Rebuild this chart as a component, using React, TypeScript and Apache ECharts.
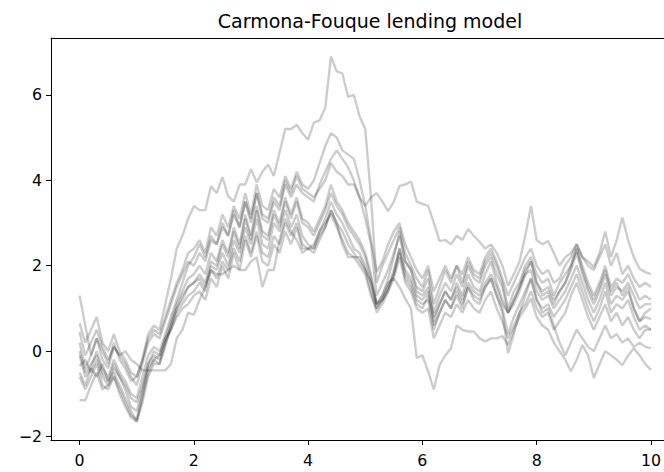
import React, { useEffect, useRef } from "react";
import * as echarts from "echarts";

const TITLE = "Carmona-Fouque lending model";
const T_STEP = 0.1;
const X_TICKS = [0, 2, 4, 6, 8, 10];
const Y_TICKS = [-2, 0, 2, 4, 6];

const path1 = [
  1.3, 0.6, -0.1, 0.3, 0.0, -0.3, 0.2, -0.2, -0.4, -0.7,
  -0.6, -0.2, 0.4, 0.6, 0.5, 1.1, 1.7, 2.4, 2.7, 3.1,
  3.4, 3.3, 3.3, 3.86, 3.7, 4.07, 3.63, 3.5, 3.9, 3.9,
  4.26, 3.95, 4.2, 4.37, 4.1, 4.65, 5.2, 5.2, 5.3, 5.1,
  4.95, 5.35, 5.4, 5.7, 6.9, 6.55, 6.5, 5.95, 6.0, 5.5,
  5.2, 3.6, 1.6, 2.0, 2.3, 2.6, 2.9, 2.3, 2.0, 1.7,
  1.5, 1.9, 1.1, 1.5, 1.9, 1.6, 2.0, 1.6, 2.1, 1.8,
  1.7, 2.1, 2.3, 2.0, 1.6, 1.0, 1.4, 1.6, 2.0, 2.2,
  1.8, 1.6, 1.7, 1.3, 1.6, 1.8, 2.0, 2.4, 2.0, 1.6,
  1.3, 1.6, 2.0, 1.5, 1.7, 1.6, 1.8, 1.5, 1.2, 1.3,
  1.2,
];
const path2 = [
  0.65, 0.2, 0.5, 0.8, 0.2, 0.0, 0.4, 0.0, -0.2, -0.5,
  -0.6, -0.2, 0.3, 0.5, 0.4, 0.8, 1.2, 1.6, 1.9, 2.3,
  2.4, 2.6, 2.3, 2.9, 2.7, 3.2, 2.9, 3.4, 3.1, 3.7,
  3.2, 3.9, 3.4, 3.3, 3.8, 3.6, 4.1, 3.8, 4.2, 3.9,
  3.8, 4.0, 4.4, 4.8, 5.1, 5.0, 4.7, 4.6, 4.5, 4.0,
  3.4, 2.6, 1.85, 2.1, 2.5, 2.8, 3.0, 2.5, 2.2, 1.9,
  1.7, 2.0, 1.4, 1.7, 2.0, 1.7, 2.0, 1.8, 2.2, 1.9,
  1.8, 2.2, 2.4, 2.1, 1.7, 1.3, 1.6, 1.9, 2.2, 2.4,
  2.0, 1.8, 1.9, 1.6, 1.7, 2.0, 2.2, 2.5, 2.2, 2.0,
  1.9, 2.2, 2.5, 2.0, 2.3, 1.8, 2.0, 1.7, 1.5, 1.6,
  1.5,
];
const path3 = [
  0.45, -0.1, 0.2, 0.5, 0.1, -0.2, 0.1, -0.1, -0.3, -0.6,
  -0.8, -0.3, 0.2, 0.4, 0.3, 0.7, 1.1, 1.5, 1.8, 2.1,
  2.0, 2.3, 2.1, 2.6, 2.5, 2.9, 2.7, 3.2, 2.9, 3.5,
  3.0, 3.7, 3.1, 3.0, 3.5, 3.3, 3.9, 3.6, 3.9, 3.7,
  3.6, 3.5, 3.9, 4.2, 4.5, 4.7, 4.5, 4.3, 4.0, 3.6,
  3.1, 2.5, 1.3, 1.6, 1.9, 2.3, 2.7, 2.1, 1.9, 1.5,
  1.4, 1.7, 0.9, 1.3, 1.6, 1.4, 1.8, 1.5, 2.0, 1.7,
  1.6, 2.0, 2.2, 1.8, 1.5, 0.9, 1.2, 1.5, 1.9, 2.1,
  1.6, 1.4, 1.5, 1.2, 1.4, 1.6, 1.9, 2.3, 1.8, 1.4,
  1.1, 1.4, 1.8, 1.3, 1.5, 1.4, 1.6, 1.3, 1.0, 1.1,
  1.1,
];
const path4 = [
  0.2, -0.4, -0.1, 0.3, -0.2, -0.4, 0.1, -0.1, 0.0, -0.2,
  -0.3, -0.45, -0.45, -0.45, -0.45, -0.45, -0.3, 0.3, 0.5, 0.9,
  0.85, 1.2, 1.5, 1.9, 1.8, 1.8, 1.9, 2.0, 1.9, 1.9,
  2.1, 2.2, 1.5, 1.9, 1.9, 2.6, 3.1, 2.8, 2.6, 2.3,
  2.4, 2.4, 2.7, 2.9, 3.3, 3.0, 2.5, 2.2, 2.2, 2.2,
  1.9, 1.6, 1.1, 1.2, 1.4, 1.8, 2.3, 1.7, 1.5, 1.1,
  1.0, 1.3, 0.6, 0.9, 1.2, 1.0, 1.3, 1.0, 1.5, 1.2,
  1.1, 1.5, 1.7, 1.3, 1.0, 0.4, 0.8, 1.1, 1.4, 1.7,
  1.2, 1.0, 1.1, 0.8, 1.0, 1.2, 1.5, 1.8, 1.4, 1.0,
  0.7, 1.0, 1.4, 0.9, 1.1, 1.0, 1.2, 0.8, 0.5, 0.6,
  0.5,
];
const path5 = [
  0.0, -0.5, -0.3, -0.1, -0.5, -0.7, -0.3, -0.6, -0.8, -1.1,
  -1.2, -0.8, -0.3, -0.1, -0.2, 0.2, 0.6, 1.0, 1.3, 1.5,
  1.6, 1.8, 1.6, 2.1, 2.0, 2.5, 2.2, 2.8, 2.4, 3.1,
  2.6, 3.3, 2.7, 2.6, 3.2, 2.9, 3.5, 3.1, 3.5, 3.0,
  2.9, 2.7, 3.0, 3.3, 3.7, 3.4, 3.2, 2.9, 2.7, 2.5,
  2.2, 1.7, 1.1, 1.3, 1.6, 1.7, 1.5, 1.23, 1.0, -0.16,
  -0.1, -0.47, -0.9, -0.33, -0.1, 0.07, 0.6, 0.5, 0.46, 0.46,
  0.3, 0.23, 0.3, 0.3, 0.35, 0.14, 0.5, 0.8, 1.0, 1.23,
  0.8, 0.6, 0.5, 0.2, 0.0, -0.2, -0.47, -0.2, 0.14, -0.1,
  -0.63, -0.3, 0.0, -0.1, -0.2, -0.33, -0.1, 0.07, -0.1, -0.3,
  -0.44,
];
const path6 = [
  -0.1, -0.6, -0.4, 0.0, -0.4, -0.6, -0.2, -0.5, -0.7, -1.0,
  -1.1, -0.6, -0.1, 0.1, 0.0, 0.4, 0.8, 1.2, 1.6, 2.0,
  2.2, 2.5, 2.2, 2.7, 2.5, 3.0, 2.7, 3.3, 2.9, 3.5,
  3.1, 3.7, 3.2, 3.1, 3.6, 3.4, 4.0, 3.7, 4.1, 3.8,
  3.7, 3.6, 3.8, 4.0, 4.4, 4.2, 4.1, 3.9, 3.9, 3.6,
  3.4, 3.6, 3.7, 3.5, 3.28, 3.5, 3.87, 3.9, 3.97, 3.5,
  3.45, 3.4, 3.0, 2.58, 2.6, 2.5, 2.7, 2.6, 2.86, 2.7,
  2.56, 2.4, 2.5, 2.3, 2.0, 1.53, 1.8, 2.1, 2.7, 3.4,
  2.6, 2.5, 2.58, 2.3, 2.0, 2.2, 2.3, 2.5, 2.2, 2.1,
  1.97, 2.3, 2.8, 2.2, 2.6, 3.13, 2.6, 2.2, 1.93, 1.85,
  1.8,
];
const path7 = [
  -0.35, -0.2, -0.5, -0.2, -0.6, -0.8, -0.4, -0.6, -0.9, -1.3,
  -1.4, -0.9, -0.3, 0.0, -0.1, 0.3, 0.7, 1.1, 1.4, 1.7,
  1.8, 2.0, 1.8, 2.3, 2.1, 2.6, 2.3, 2.9, 2.5, 3.2,
  2.7, 3.4, 2.8, 2.7, 3.3, 3.0, 3.6, 3.2, 3.6, 3.1,
  3.0, 2.8, 3.1, 3.4, 3.9, 3.5, 3.3, 3.0, 2.8, 2.6,
  2.3, 1.8, 1.1, 1.3, 1.7, 2.2, 2.8, 2.1, 1.9, 1.4,
  1.3, 1.5, 0.7, 1.1, 1.4, 1.2, 1.6, 1.3, 1.8, 1.5,
  1.4, 1.8, 2.1, 1.6, 1.2, 0.9, 1.2, 1.5, 1.8, 2.1,
  1.6, 1.3, 1.4, 1.1, 1.4, 1.6, 2.0, 2.4, 1.9, 1.5,
  1.2, 1.5, 1.9, 1.4, 1.6, 1.3, 1.5, 1.0, 0.7, 0.8,
  0.75,
];
const path8 = [
  -0.5, -0.8, -0.4, -0.6, -0.3, -0.7, -0.5, -0.8, -1.1, -1.4,
  -1.65, -1.2, -0.6, -0.3, -0.3, 0.1, 0.6, 1.0, 1.2, 1.5,
  1.6, 1.7, 1.5, 2.0, 1.9, 2.3, 2.0, 2.6, 2.3, 2.9,
  2.5, 3.1, 2.5, 2.4, 3.0, 2.8, 3.3, 2.9, 3.2, 2.7,
  2.5, 2.4, 2.8, 3.1, 3.5, 3.2, 3.0, 2.7, 2.4, 2.3,
  2.0, 1.6, 1.0, 1.2, 1.5, 1.9, 2.4, 1.8, 1.6, 1.2,
  1.1, 1.2, 0.5, 0.9, 1.2, 1.0, 1.4, 1.1, 1.5, 1.3,
  1.2, 1.5, 1.7, 1.3, 0.9, -0.05, 0.4, 0.9, 1.3, 1.7,
  1.2, 0.9, 1.0, 0.6, 0.2, -0.1, 0.2, 0.5, 0.3, 0.1,
  0.0, 0.3, 0.6, 0.3, 0.4, 0.2, 0.3, 0.1, 0.2, 0.1,
  0.07,
];
const path9 = [
  -0.6, -0.9, -0.6, -0.3, -0.8, -0.9, -0.6, -0.9, -1.2, -1.5,
  -1.6, -1.0, -0.4, -0.2, -0.3, 0.2, 0.5, 0.9, 1.1, 1.3,
  1.4, 1.6, 1.4, 1.9, 1.7, 2.1, 1.9, 2.4, 2.1, 2.7,
  2.3, 2.8, 2.3, 2.2, 2.7, 2.5, 3.0, 2.7, 3.0, 2.5,
  2.4, 2.3, 2.6, 2.9, 3.3, 3.0, 2.8, 2.5, 2.3, 2.1,
  1.9, 1.4, 0.9, 1.1, 1.4, 1.7, 2.2, 1.6, 1.4, 1.0,
  0.9, 1.0, 0.3, 0.6, 0.9, 0.8, 1.1, 0.9, 1.2, 1.0,
  0.9, 1.2, 1.4, 1.0, 0.7, 0.3, 0.6, 0.9, 1.1, 1.4,
  1.0, 0.8, 0.9, 0.5, 0.7, 0.9, 1.3, 1.6, 1.2, 0.8,
  0.5, 0.8, 1.1, 0.7, 0.9, 0.6, 0.8, 0.5, 0.3, 0.5,
  0.5,
];
const path10 = [
  -1.15, -1.15, -0.8, -0.5, -0.9, -0.8, -0.6, -1.0, -1.3, -1.55,
  -1.65, -1.1, -0.5, -0.2, -0.1, 0.3, 0.5, 0.8, 1.0, 1.1,
  1.3, 1.4, 1.2, 1.7, 1.5, 2.0, 1.7, 2.3, 1.9, 2.6,
  2.2, 2.7, 2.1, 2.0, 2.5, 2.3, 2.8, 2.5, 2.9, 2.4,
  2.4, 2.5, 2.8, 3.0, 3.2, 2.9, 2.6, 2.3, 2.2, 2.0,
  1.8, 1.3, 1.0, 1.2, 1.5, 1.8, 2.4, 1.9, 1.7, 1.3,
  1.2, 1.4, 0.8, 1.1, 1.4, 1.2, 1.5, 1.2, 1.6, 1.4,
  1.3, 1.6, 1.8, 1.5, 1.1, 0.9, 1.1, 1.4, 1.8, 1.9,
  1.4, 1.2, 1.3, 1.0, 1.2, 1.4, 1.7, 2.0, 1.6, 1.2,
  0.9, 1.2, 1.6, 1.1, 1.3, 1.2, 1.4, 1.0, 0.7, 0.9,
  1.0,
];

const PATHS = [path1, path2, path3, path4, path5, path6, path7, path8, path9, path10];

const FONT = "DejaVu Sans";
const fmt = (v: number) => String(v).replace("-", "\u2212");

export default function App() {
  const ref = useRef<HTMLDivElement>(null);
  useEffect(() => {
    if (!ref.current) return;
    const chart = echarts.init(ref.current, null, { renderer: "svg" });
    const X_MIN = -0.5;
    const X_MAX = 10.22;
    chart.setOption({
      animation: false,
      backgroundColor: "#ffffff",
      title: {
        text: TITLE,
        left: 365,
        top: 6,
        textAlign: "center",
        textStyle: { fontFamily: FONT, fontSize: 19, fontWeight: "normal", color: "#000" },
      },
      grid: {
        left: 51,
        top: 38,
        width: 613,
        height: 402,
        show: false,
      },
      xAxis: [
        {
          type: "value",
          min: X_MIN,
          max: X_MAX,
          splitLine: { show: false },
          axisLine: { show: true, onZero: false, lineStyle: { color: "#000", width: 1 } },
          axisTick: { show: true, length: 5, customValues: X_TICKS, lineStyle: { color: "#000" } },
          axisLabel: {
            customValues: X_TICKS,
            margin: 12,
            fontFamily: FONT,
            fontSize: 15.8,
            color: "#000",
            formatter: (v: number) => fmt(v),
          },
        },
        {
          type: "value",
          position: "top",
          min: X_MIN,
          max: X_MAX,
          splitLine: { show: false },
          axisLine: { show: true, onZero: false, lineStyle: { color: "#000", width: 1 } },
          axisTick: { show: false },
          axisLabel: { show: false },
        },
      ],
      yAxis: {
        type: "value",
        min: -2.08,
        max: 7.33,
        splitLine: { show: false },
        axisLine: { show: true, onZero: false, lineStyle: { color: "#000", width: 1 } },
        axisTick: { show: true, length: 5, customValues: Y_TICKS, lineStyle: { color: "#000" } },
        axisLabel: {
          customValues: Y_TICKS,
          margin: 9,
          fontFamily: FONT,
          fontSize: 15.8,
          color: "#000",
          formatter: (v: number) => fmt(v),
        },
      },
      series: PATHS.map((p, i) => ({
        name: "path" + (i + 1),
        type: "line",
        xAxisIndex: 0,
        showSymbol: false,
        symbol: "none",
        lineStyle: { color: "rgba(0,0,0,0.2)", width: 2.4 },
        data: p.map((v, k) => [k * T_STEP, v]),
      })),
    });
    return () => chart.dispose();
  }, []);
  return (
    <div
      ref={ref}
      style={{ position: "fixed", left: 0, top: 0, width: 664, height: 472 }}
    />
  );
}
